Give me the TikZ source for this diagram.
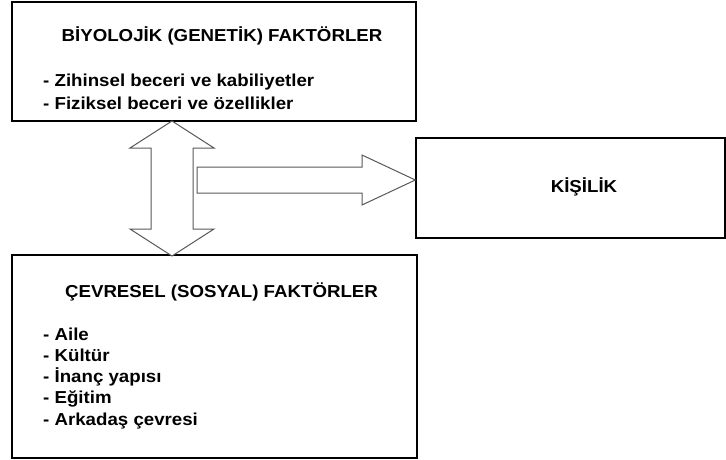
\documentclass[tikz,border=0pt]{standalone}
\usepackage{fontspec}
\setmainfont[FakeStretch=1.08]{Liberation Sans}
\begin{document}
\begin{tikzpicture}[x=1pt,y=-1pt,
  box/.style={draw=black,line width=1.3pt,inner sep=0pt},
  blockarrow/.style={draw=black!65,line width=1pt,fill=white,line join=miter},
  txt/.style={inner sep=0pt,font=\fontsize{17.3}{20}\selectfont\bfseries}]
\useasboundingbox (0,0) rectangle (726,460);
% boxes
\node[box,minimum width=404pt,minimum height=119pt] (bio) at (214,61.5) {};
\node[box,minimum width=309pt,minimum height=100pt] (kis) at (570.5,188) {};
\node[box,minimum width=405pt,minimum height=203pt] (cev) at (214.5,356.5) {};
% texts
\node[txt,anchor=base] (biot) at (222,42) {BİYOLOJİK (GENETİK) FAKTÖRLER};
\node[txt,anchor=base west] (bio1) at (43,87) {- Zihinsel beceri ve kabiliyetler};
\node[txt,anchor=base west] (bio2) at (43,110) {- Fiziksel beceri ve özellikler};
\node[txt,anchor=base] (kist) at (584,192) {KİŞİLİK};
\node[txt,anchor=base] (cevt) at (221.5,297) {ÇEVRESEL (SOSYAL) FAKTÖRLER};
\node[txt,anchor=base west] (cev1) at (43,340) {- Aile};
\node[txt,anchor=base west] (cev2) at (43,361) {- Kültür};
\node[txt,anchor=base west] (cev3) at (43,382) {- İnanç yapısı};
\node[txt,anchor=base west] (cev4) at (43,403) {- Eğitim};
\node[txt,anchor=base west] (cev5) at (43,425) {- Arkadaş çevresi};
% double block arrow between the factor boxes
\coordinate (dtop) at (172,121);
\coordinate (dbot) at (172,256);
\draw[blockarrow] (dtop) -- (214,148) -- (193,148) -- (193,229) -- (214,229)
  -- (dbot) -- (130,229) -- (151,229) -- (151,148) -- (130,148) -- cycle;
% single block arrow to KİŞİLİK
\coordinate (rtip) at (kis.west |- 0,180);
\draw[blockarrow] (197,167) -- (362,167) -- (362,155) -- (rtip) -- (362,205)
  -- (362,193) -- (197,193) -- cycle;
\end{tikzpicture}
\end{document}
